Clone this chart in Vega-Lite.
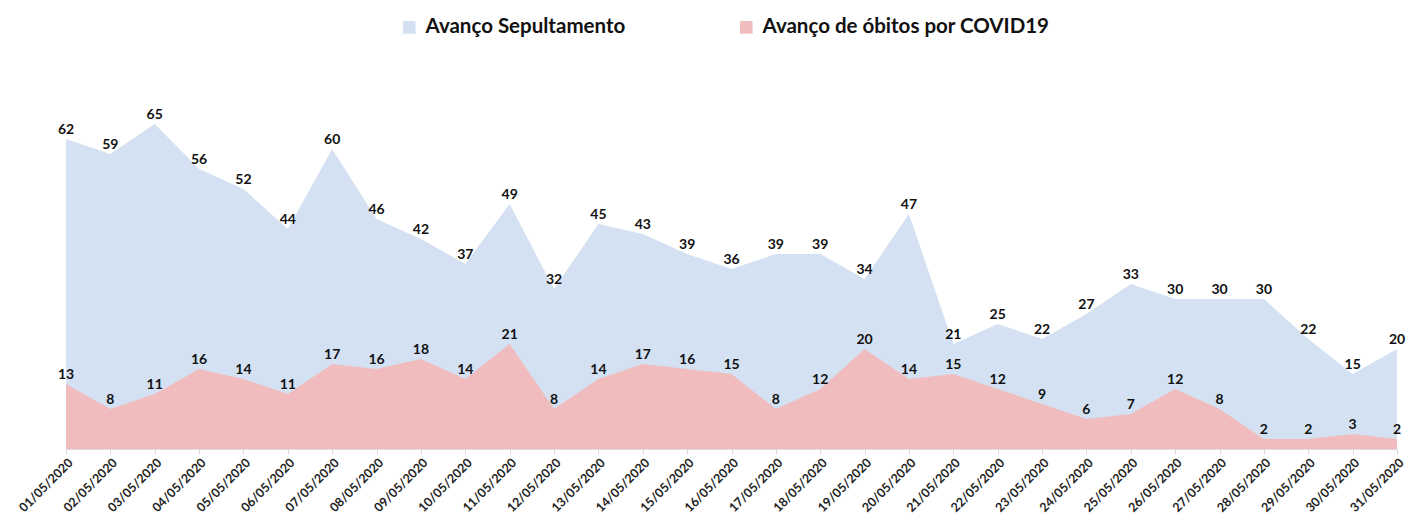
{
  "$schema": "https://vega.github.io/schema/vega-lite/v6.json",
  "width": 1331,
  "height": 350,
  "autosize": {"type": "none"},
  "padding": {"left": 66, "top": 99, "right": 13, "bottom": 76},
  "background": "white",
  "config": {"view": {"stroke": null}, "font": "Lato"},
  "data": {"values": [
    {"d":"01/05/2020","s":"Avanço Sepultamento","v":62},{"d":"02/05/2020","s":"Avanço Sepultamento","v":59},{"d":"03/05/2020","s":"Avanço Sepultamento","v":65},{"d":"04/05/2020","s":"Avanço Sepultamento","v":56},{"d":"05/05/2020","s":"Avanço Sepultamento","v":52},{"d":"06/05/2020","s":"Avanço Sepultamento","v":44},{"d":"07/05/2020","s":"Avanço Sepultamento","v":60},{"d":"08/05/2020","s":"Avanço Sepultamento","v":46},{"d":"09/05/2020","s":"Avanço Sepultamento","v":42},{"d":"10/05/2020","s":"Avanço Sepultamento","v":37},{"d":"11/05/2020","s":"Avanço Sepultamento","v":49},{"d":"12/05/2020","s":"Avanço Sepultamento","v":32},{"d":"13/05/2020","s":"Avanço Sepultamento","v":45},{"d":"14/05/2020","s":"Avanço Sepultamento","v":43},{"d":"15/05/2020","s":"Avanço Sepultamento","v":39},{"d":"16/05/2020","s":"Avanço Sepultamento","v":36},{"d":"17/05/2020","s":"Avanço Sepultamento","v":39},{"d":"18/05/2020","s":"Avanço Sepultamento","v":39},{"d":"19/05/2020","s":"Avanço Sepultamento","v":34},{"d":"20/05/2020","s":"Avanço Sepultamento","v":47},{"d":"21/05/2020","s":"Avanço Sepultamento","v":21},{"d":"22/05/2020","s":"Avanço Sepultamento","v":25},{"d":"23/05/2020","s":"Avanço Sepultamento","v":22},{"d":"24/05/2020","s":"Avanço Sepultamento","v":27},{"d":"25/05/2020","s":"Avanço Sepultamento","v":33},{"d":"26/05/2020","s":"Avanço Sepultamento","v":30},{"d":"27/05/2020","s":"Avanço Sepultamento","v":30},{"d":"28/05/2020","s":"Avanço Sepultamento","v":30},{"d":"29/05/2020","s":"Avanço Sepultamento","v":22},{"d":"30/05/2020","s":"Avanço Sepultamento","v":15},{"d":"31/05/2020","s":"Avanço Sepultamento","v":20},
    {"d":"01/05/2020","s":"Avanço de óbitos por COVID19","v":13},{"d":"02/05/2020","s":"Avanço de óbitos por COVID19","v":8},{"d":"03/05/2020","s":"Avanço de óbitos por COVID19","v":11},{"d":"04/05/2020","s":"Avanço de óbitos por COVID19","v":16},{"d":"05/05/2020","s":"Avanço de óbitos por COVID19","v":14},{"d":"06/05/2020","s":"Avanço de óbitos por COVID19","v":11},{"d":"07/05/2020","s":"Avanço de óbitos por COVID19","v":17},{"d":"08/05/2020","s":"Avanço de óbitos por COVID19","v":16},{"d":"09/05/2020","s":"Avanço de óbitos por COVID19","v":18},{"d":"10/05/2020","s":"Avanço de óbitos por COVID19","v":14},{"d":"11/05/2020","s":"Avanço de óbitos por COVID19","v":21},{"d":"12/05/2020","s":"Avanço de óbitos por COVID19","v":8},{"d":"13/05/2020","s":"Avanço de óbitos por COVID19","v":14},{"d":"14/05/2020","s":"Avanço de óbitos por COVID19","v":17},{"d":"15/05/2020","s":"Avanço de óbitos por COVID19","v":16},{"d":"16/05/2020","s":"Avanço de óbitos por COVID19","v":15},{"d":"17/05/2020","s":"Avanço de óbitos por COVID19","v":8},{"d":"18/05/2020","s":"Avanço de óbitos por COVID19","v":12},{"d":"19/05/2020","s":"Avanço de óbitos por COVID19","v":20},{"d":"20/05/2020","s":"Avanço de óbitos por COVID19","v":14},{"d":"21/05/2020","s":"Avanço de óbitos por COVID19","v":15},{"d":"22/05/2020","s":"Avanço de óbitos por COVID19","v":12},{"d":"23/05/2020","s":"Avanço de óbitos por COVID19","v":9},{"d":"24/05/2020","s":"Avanço de óbitos por COVID19","v":6},{"d":"25/05/2020","s":"Avanço de óbitos por COVID19","v":7},{"d":"26/05/2020","s":"Avanço de óbitos por COVID19","v":12},{"d":"27/05/2020","s":"Avanço de óbitos por COVID19","v":8},{"d":"28/05/2020","s":"Avanço de óbitos por COVID19","v":2},{"d":"29/05/2020","s":"Avanço de óbitos por COVID19","v":2},{"d":"30/05/2020","s":"Avanço de óbitos por COVID19","v":3},{"d":"31/05/2020","s":"Avanço de óbitos por COVID19","v":2}
  ]},
  "encoding": {
    "x": {"field": "d", "type": "ordinal", "sort": null,
      "scale": {"type": "point", "padding": 0},
      "axis": {"title": null, "labelAngle": -45, "labelFontWeight": "bold", "labelFontSize": 12.5, "labelColor": "#222",
               "domainColor": "#d9d9d9", "tickColor": "#d9d9d9", "tickSize": 5, "labelPadding": 2}},
    "y": {"field": "v", "type": "quantitative", "scale": {"domain": [0, 70]}, "axis": null, "stack": null}
  },
  "layer": [
    {
      "transform": [{"filter": "datum.s === 'Avanço Sepultamento'"}],
      "mark": {"type": "area", "opacity": 1},
      "encoding": {"color": {"field": "s", "type": "nominal",
        "scale": {"domain": ["Avanço Sepultamento", "Avanço de óbitos por COVID19"], "range": ["#d3e1f2", "#f0bcbe"]},
        "legend": {"title": null, "orient": "none", "legendX": 333, "legendY": -82, "direction": "horizontal",
          "symbolType": "square", "symbolSize": 160, "symbolStrokeWidth": 0, "labelFontSize": 20.5, "labelFontWeight": "bold",
          "labelColor": "#111", "columnPadding": 110, "labelOffset": 6, "labelLimit": 500}}}
    },
    {
      "transform": [{"filter": "datum.s !== 'Avanço Sepultamento'"}],
      "mark": {"type": "area", "opacity": 1},
      "encoding": {"color": {"field": "s", "type": "nominal"}}
    },
    {
      "mark": {"type": "text", "dy": -9, "fontWeight": "bold", "fontSize": 14, "color": "#111"},
      "encoding": {"text": {"field": "v", "type": "quantitative"}}
    }
  ]
}
